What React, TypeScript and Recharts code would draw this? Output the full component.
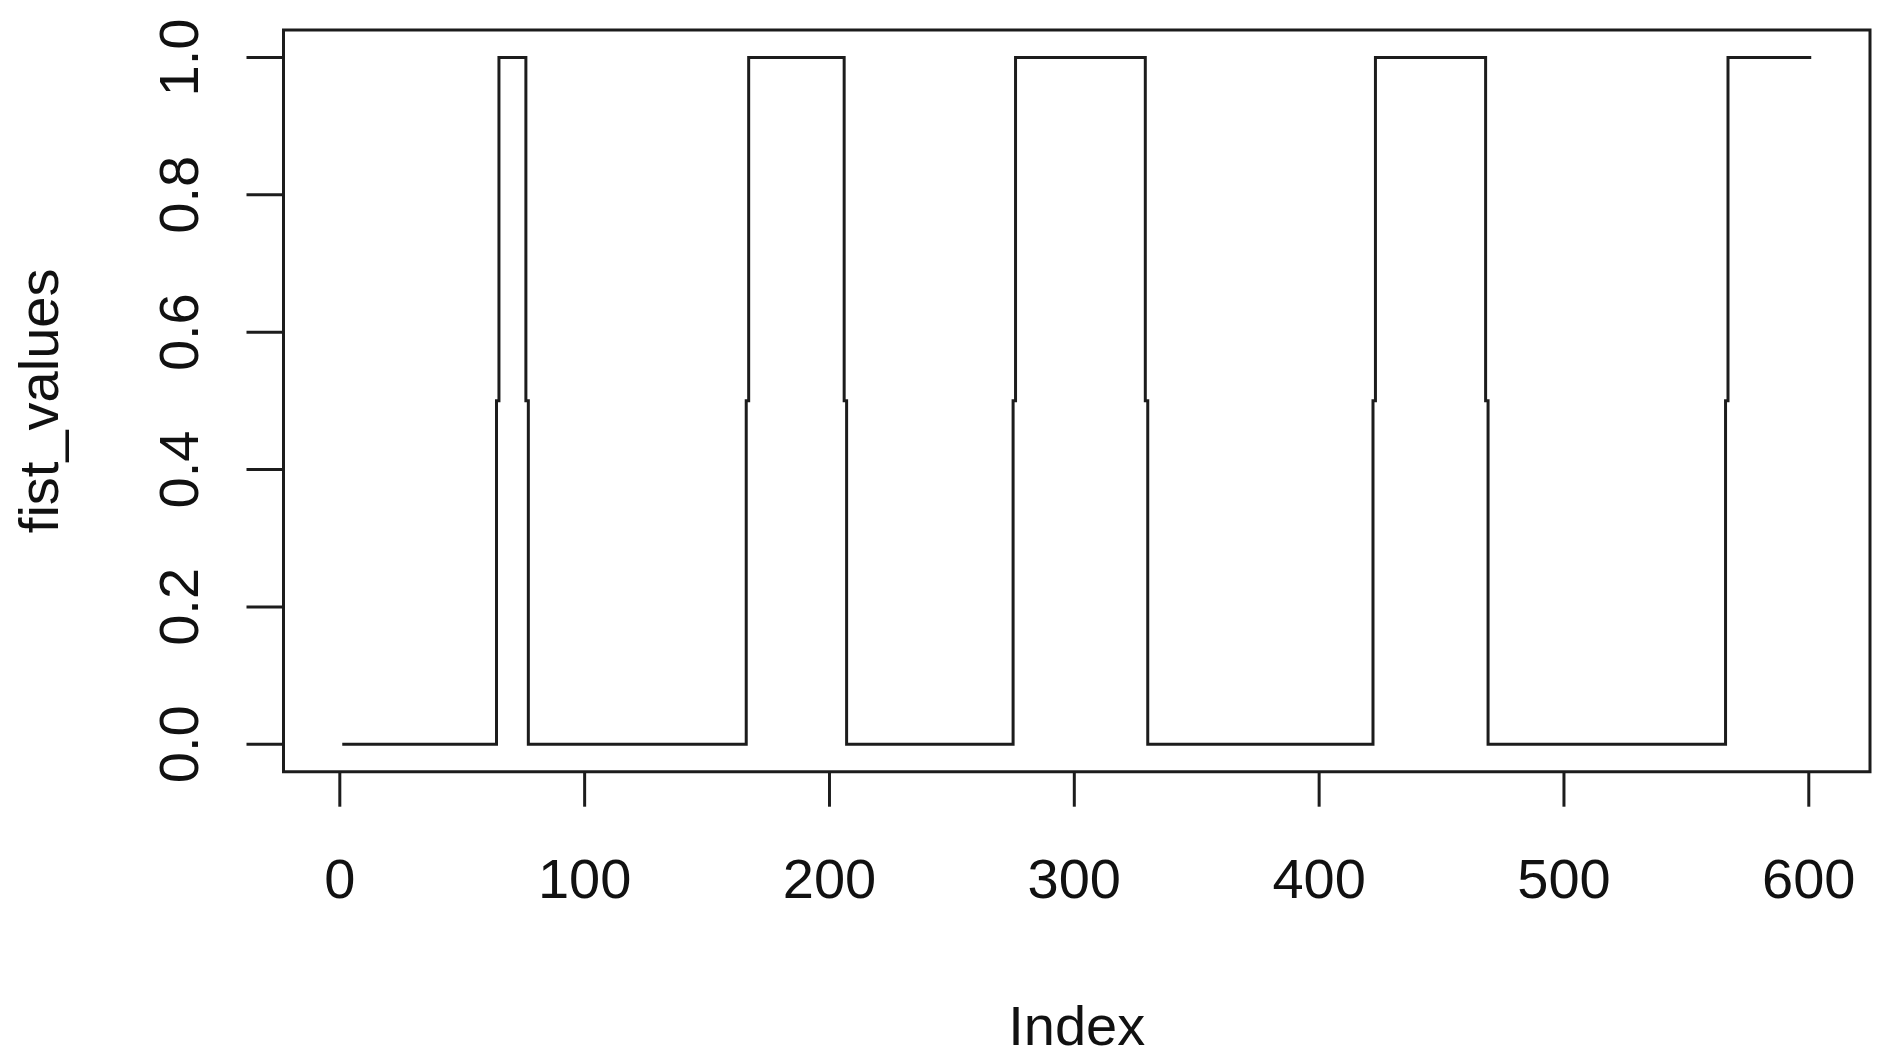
import React from "react";
import { LineChart, Line, XAxis, YAxis, ReferenceArea, Label } from "recharts";

// Points where the series value changes (index, value); drawn as steps
const changeIndex = [1, 64, 65, 76, 77, 166, 167, 206, 207, 275, 276, 329, 330, 422, 423, 468, 469, 566, 567, 601];
const changeValue = [0, 0.5, 1, 0.5, 0, 0.5, 1, 0.5, 0, 0.5, 1, 0.5, 0, 0.5, 1, 0.5, 0, 0.5, 1, 1];
const xTicks = [0, 100, 200, 300, 400, 500, 600];
const yTicks = [0, 0.2, 0.4, 0.6, 0.8, 1.0];
const xDomain = [-23, 625];
const yDomain = [-0.04, 1.04];

const data = changeIndex.map((idx, i) => ({ index: idx, fist_values: changeValue[i] }));

const FONT = "'Liberation Sans', Arial, sans-serif";
const INK = "#1c1c1c";

const XTick = (props: any) => {
  const { x, y, payload } = props;
  return (
    <text x={x} y={y + 91.6} textAnchor="middle" fontFamily={FONT} fontSize={56} fill="#111">
      {String(payload.value)}
    </text>
  );
};

const YTick = (props: any) => {
  const { x, y, payload } = props;
  const bx = x - 48.5;
  return (
    <text
      x={bx}
      y={y}
      transform={`rotate(-90, ${bx}, ${y})`}
      textAnchor="middle"
      fontFamily={FONT}
      fontSize={56}
      fill="#111"
    >
      {Number(payload.value).toFixed(1)}
    </text>
  );
};

export default function App() {
  return (
    <div style={{ position: "absolute", left: 0, top: 0, width: 1886, height: 1062, background: "#fff" }}>
      <LineChart
        width={1886}
        height={1062}
        data={data}
        margin={{ top: 30, right: 16, left: 0, bottom: 0 }}
      >
        <XAxis
          dataKey="index"
          type="number"
          domain={xDomain}
          ticks={xTicks}
          allowDataOverflow
          axisLine={false}
          tickLine={{ stroke: INK, strokeWidth: 3 }}
          tickSize={35}
          tickMargin={0}
          height={290.3}
          tick={<XTick />}
          interval={0}
        >
          <Label
            content={(p: any) => {
              const vb = p.viewBox || {};
              const cx = (vb.x ?? 283.5) + (vb.width ?? 1586.5) / 2;
              return (
                <text x={cx} y={1045} textAnchor="middle" fontFamily={FONT} fontSize={56} fill="#111">
                  Index
                </text>
              );
            }}
          />
        </XAxis>
        <YAxis
          type="number"
          domain={yDomain}
          ticks={yTicks}
          allowDataOverflow
          axisLine={false}
          tickLine={{ stroke: INK, strokeWidth: 3 }}
          tickSize={37}
          tickMargin={0}
          width={283.5}
          tick={<YTick />}
          interval={0}
        >
          <Label
            content={(p: any) => {
              const vb = p.viewBox || {};
              const cy = (vb.y ?? 30) + (vb.height ?? 741.7) / 2;
              return (
                <text
                  x={58}
                  y={cy}
                  transform={`rotate(-90, 58, ${cy})`}
                  textAnchor="middle"
                  fontFamily={FONT}
                  fontSize={56}
                  fill="#111"
                >
                  fist_values
                </text>
              );
            }}
          />
        </YAxis>
        <ReferenceArea
          x1={xDomain[0]}
          x2={xDomain[1]}
          y1={yDomain[0]}
          y2={yDomain[1]}
          fill="none"
          fillOpacity={0}
          stroke={INK}
          strokeWidth={3}
          ifOverflow="visible"
        />
        <Line
          type="stepAfter"
          dataKey="fist_values"
          stroke={INK}
          strokeWidth={3}
          dot={false}
          activeDot={false}
          isAnimationActive={false}
        />
      </LineChart>
    </div>
  );
}
